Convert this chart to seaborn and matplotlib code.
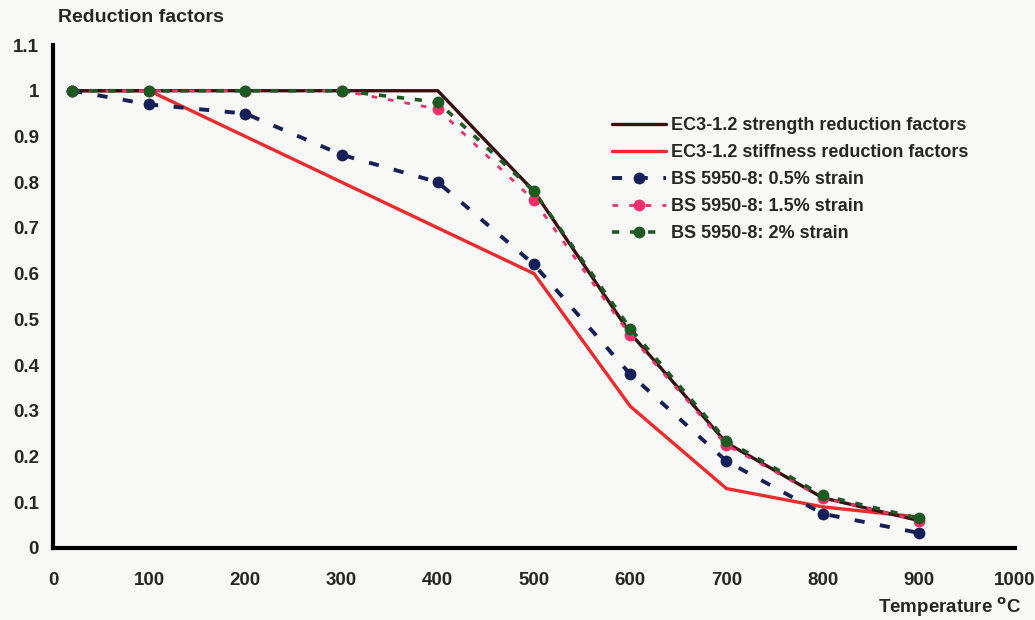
import numpy as np
import pandas as pd
import seaborn as sns
import matplotlib.pyplot as plt
from matplotlib.ticker import FuncFormatter

temps = [20, 100, 200, 300, 400, 500, 600, 700, 800, 900]
ec3_strength = [1.0, 1.0, 1.0, 1.0, 1.0, 0.78, 0.47, 0.23, 0.11, 0.06]
ec3_stiffness = [1.0, 1.0, 0.9, 0.8, 0.7, 0.6, 0.31, 0.13, 0.09, 0.0675]
bs_05 = [1.0, 0.97, 0.95, 0.86, 0.80, 0.62, 0.38, 0.19, 0.075, 0.033]
bs_15 = [1.0, 1.0, 1.0, 1.0, 0.96, 0.76, 0.465, 0.225, 0.11, 0.06]
bs_20 = [1.0, 1.0, 1.0, 1.0, 0.975, 0.78, 0.48, 0.235, 0.115, 0.065]

labels = ["EC3-1.2 strength reduction factors",
          "EC3-1.2 stiffness reduction factors",
          "BS 5950-8: 0.5% strain",
          "BS 5950-8: 1.5% strain",
          "BS 5950-8: 2% strain"]

sns.set_style("white")
plt.rcParams['font.family'] = ['Liberation Sans', 'DejaVu Sans']
plt.rcParams['font.weight'] = 'bold'

bg = '#f8f8f6'
fig = plt.figure(figsize=(10.35, 6.2), dpi=100, facecolor=bg)
ax = fig.add_axes([53/1035, 72/620, (1015-53)/1035, (548-45)/620])
ax.set_facecolor(bg)

# stiffness below, then strength, then the BS curves on top
sns.lineplot(x=temps, y=ec3_stiffness, ax=ax, color='#ee2a2c', lw=2.4,
             label=labels[1], zorder=2)
sns.lineplot(x=temps, y=ec3_strength, ax=ax, color='#3a0e0e', lw=2.4,
             label=labels[0], zorder=3)
sns.lineplot(x=temps, y=bs_05, ax=ax, color='#15205a', lw=2.8,
             linestyle=(0, (2.6, 4)), marker='o', markersize=8.5,
             markeredgewidth=0, label=labels[2], zorder=4)
sns.lineplot(x=temps, y=bs_15, ax=ax, color='#f0306a', lw=2.0,
             linestyle=(0, (2, 4)), marker='o', markersize=8.5,
             markeredgewidth=0, label=labels[3], zorder=5)
sns.lineplot(x=temps, y=bs_20, ax=ax, color='#1d5a22', lw=2.6,
             linestyle=(0, (2, 3)), marker='o', markersize=8.5,
             markeredgewidth=0, label=labels[4], zorder=6)

ax.set_xlim(0, 1000)
ax.set_ylim(0, 1.1)
ax.set_xticks(range(0, 1001, 100))
ax.set_yticks(np.round(np.arange(0, 1.11, 0.1), 1))
ax.yaxis.set_major_formatter(FuncFormatter(lambda v, p: f"{v:g}"))
ax.tick_params(axis='both', which='major', labelsize=13.5, direction='out',
               length=6, width=2.5, color='black', pad=4)
ax.tick_params(axis='x', pad=11)
for lab in ax.get_xticklabels() + ax.get_yticklabels():
    lab.set_fontweight('bold')

sns.despine(ax=ax)
for s in ['left', 'bottom']:
    ax.spines[s].set_linewidth(3)
    ax.spines[s].set_color('black')

ax.set_xlabel('')
ax.set_ylabel('')
fig.text(58/1035, 1 - 18/620, 'Reduction factors', fontsize=14,
         fontweight='bold', ha='left', va='center')
fig.text(1022/1035, 1 - 607/620, 'Temperature $^{\\mathrm{o}}$C', fontsize=13.5,
         fontweight='bold', ha='right', va='center')

handles, labs = ax.get_legend_handles_labels()
order = [labs.index(l) for l in labels]
leg = ax.legend([handles[i] for i in order], [labs[i] for i in order],
                loc='upper left', bbox_to_anchor=(543/962, 1 - (101-45)/503),
                frameon=False, handlelength=3.0,
                handletextpad=0.25, labelspacing=0.55, numpoints=1,
                prop={'weight': 'bold', 'size': 13})

fig.savefig('out.png', dpi=100, facecolor=bg)
